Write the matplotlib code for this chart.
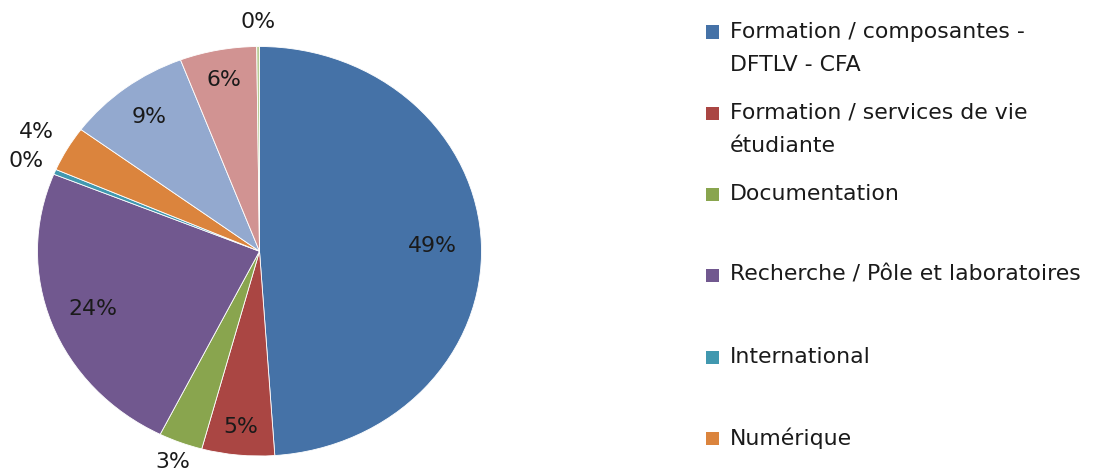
"""Pie chart of budget shares by area (recreated)."""

import matplotlib

matplotlib.use("Agg")

import matplotlib.pyplot as plt
import numpy as np
from matplotlib.patches import Rectangle

# slice values (percent), in drawing order (clockwise from 12 o'clock)
shares = [49.0, 5.3, 3.2, 23.8, 0.4, 3.6, 9.1, 5.6, 0.2]
pct_labels = ["49%", "5%", "3%", "24%", "0%", "4%", "9%", "6%", "0%"]
colors = ["#4572A7", "#AA4643", "#89A54E", "#71588F", "#4198AF",
          "#DB843D", "#93A9CF", "#D19392", "#B9CD96"]

# only the first six legend entries are visible in the original
legend_labels = [
    "Formation / composantes -\nDFTLV - CFA",
    "Formation / services de vie\nétudiante",
    "Documentation",
    "Recherche / Pôle et laboratoires",
    "International",
    "Numérique",
]

# radial distance of each percentage label (inside for big slices)
label_dist = [0.78, 0.86, 1.10, 0.80, 1.14, 1.16, 0.82, 0.85, 1.12]

FONT = ["DejaVu Sans"]
FS = 15.8
W, H = 1115, 475

fig = plt.figure(figsize=(W / 100, H / 100), dpi=100)
# pie bounding box in pixels: x 37..481, y 47..456 (slightly stretched)
left, right, top, bottom = 37.5, 481.5, 46.5, 456.0
ax = fig.add_axes([left / W, 1 - bottom / H, (right - left) / W, (bottom - top) / H])

wedges, _ = ax.pie(shares, colors=colors, startangle=90, counterclock=False,
                   wedgeprops=dict(edgecolor="white", linewidth=0.6))
ax.set_aspect("auto")
ax.set_xlim(-1, 1)
ax.set_ylim(-1, 1)

for w, txt, d in zip(wedges, pct_labels, label_dist):
    mid = np.deg2rad((w.theta1 + w.theta2) / 2)
    ax.text(d * np.cos(mid), d * np.sin(mid), txt, ha="center", va="center",
            fontsize=FS, color="#1a1a1a", family=FONT)

# legend drawn by hand: fixed slot height, square aligned with first line
slot_y = [32, 113, 194, 275, 357, 438]
line_gap = 33
for y, lab, col in zip(slot_y, legend_labels, colors):
    fig.patches.append(Rectangle((706 / W, 1 - (y + 6.5) / H), 13 / W, 13 / H,
                                 transform=fig.transFigure, facecolor=col,
                                 edgecolor="none"))
    for k, line in enumerate(lab.split("\n")):
        fig.text(730 / W, 1 - (y + k * line_gap) / H, line, ha="left", va="center",
                 fontsize=FS, color="#1a1a1a", family=FONT)

fig.savefig("out.png", dpi=100)
plt.close(fig)
